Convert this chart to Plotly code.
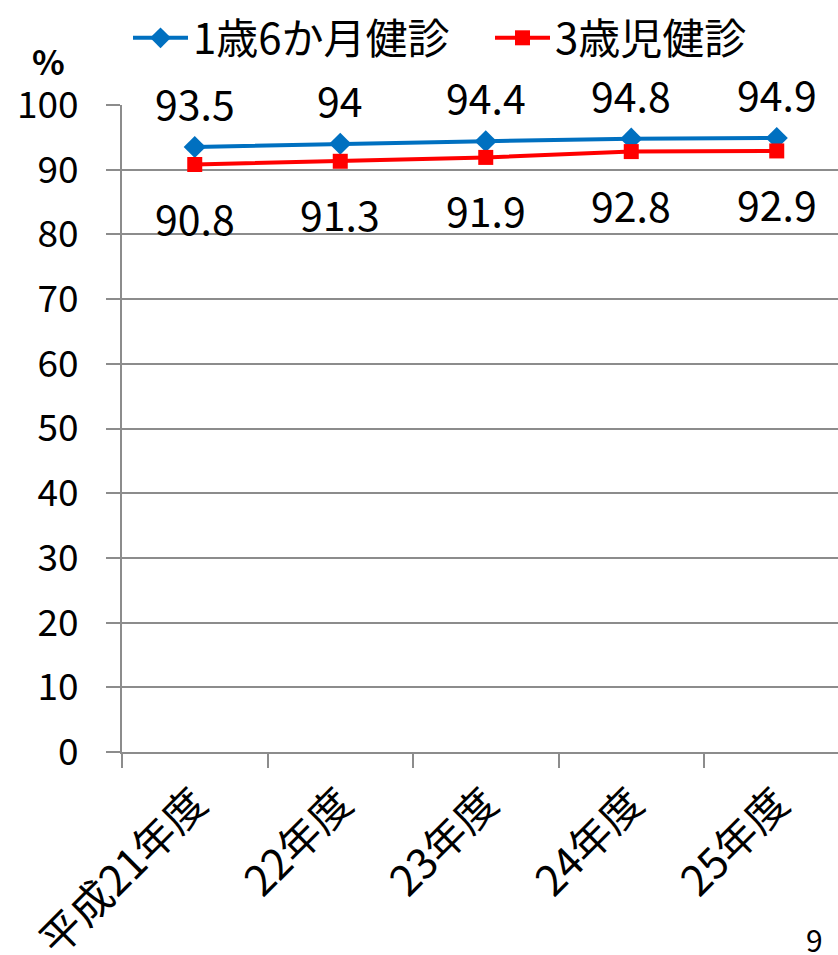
import plotly.graph_objects as go

# Checkup attendance rates (%) by fiscal year
years = ["平成21年度", "22年度", "23年度", "24年度", "25年度"]
rate_18m = [93.5, 94, 94.4, 94.8, 94.9]
rate_3y = [90.8, 91.3, 91.9, 92.8, 92.9]
y_ticks = [0, 10, 20, 30, 40, 50, 60, 70, 80, 90, 100]

FONT = "Noto Sans CJK JP"
BLUE = "#0070C0"
RED = "#FF0000"
GRID = "#8C8C8C"

W, H = 838, 955
T, B = 105, 203          # vertical margins (px)
PLOT_LEFT = 122          # left edge of the plotting area (px)
ph = H - T - B
CAT_W = 145.5            # pixel width of one category slot


def px_to_paper(x, y):
    return x / W, (H - B - y) / ph


fig = go.Figure()
fig.add_trace(go.Scatter(
    x=years, y=rate_18m, name="1歳6か月健診",
    mode="lines+markers",
    line=dict(color=BLUE, width=4),
    marker=dict(symbol="diamond", size=17, color=BLUE),
))
fig.add_trace(go.Scatter(
    x=years, y=rate_3y, name="3歳児健診",
    mode="lines+markers",
    line=dict(color=RED, width=4),
    marker=dict(symbol="square", size=15, color=RED),
))

annotations = []
for cat, v in zip(years, rate_18m):
    annotations.append(dict(x=cat, y=v, xref="x", yref="y", text=f"{v:g}",
                            showarrow=False, yshift=45,
                            font=dict(family=FONT, size=41, color="black")))
for cat, v in zip(years, rate_3y):
    annotations.append(dict(x=cat, y=v, xref="x", yref="y", text=f"{v:g}",
                            showarrow=False, yshift=-52,
                            font=dict(family=FONT, size=41, color="black")))

px, py = px_to_paper(48, 60)
annotations.append(dict(x=px, y=py, xref="paper", yref="paper", text="<b>%</b>",
                        xanchor="center", yanchor="middle",
                        showarrow=False, font=dict(family=FONT, size=34, color="black")))
px, py = px_to_paper(814, 939)
annotations.append(dict(x=px, y=py, xref="paper", yref="paper", text="9",
                        xanchor="center", yanchor="middle",
                        showarrow=False, font=dict(family=FONT, size=30, color="black")))

lx, ly = px_to_paper(128, 4)
x_dom0 = PLOT_LEFT / W
x_span = (W - PLOT_LEFT) / CAT_W

fig.update_layout(
    width=W, height=H,
    margin=dict(l=0, r=0, t=T, b=B, pad=0, autoexpand=False),
    paper_bgcolor="white", plot_bgcolor="white",
    font=dict(family=FONT, size=40, color="black"),
    showlegend=True,
    legend=dict(orientation="h", x=lx, xanchor="left", y=ly, yanchor="top",
                font=dict(family=FONT, size=42, color="black"),
                bgcolor="rgba(0,0,0,0)", itemwidth=55,
                entrywidth=292, entrywidthmode="pixels",
                tracegroupgap=0),
    annotations=annotations,
    xaxis=dict(
        type="category", domain=[x_dom0, 1], automargin=False,
        range=[-0.5, -0.5 + x_span],
        tickson="boundaries", ticks="outside", ticklen=14, tickcolor=GRID, tickwidth=2,
        tickangle=-45, tickfont=dict(family=FONT, size=42),
        showline=True, linecolor=GRID, linewidth=2,
        showgrid=False, zeroline=False, ticklabelstandoff=8,
    ),
    yaxis=dict(
        range=[0, 100], tickvals=y_ticks, automargin=False,
        ticks="outside", ticklen=14, tickcolor=GRID, tickwidth=2,
        tickfont=dict(family=FONT, size=37),
        showline=True, linecolor=GRID, linewidth=2,
        showgrid=True, gridcolor=GRID, gridwidth=2,
        zeroline=False, ticklabelstandoff=20,
    ),
)

fig.write_html("out.html")
